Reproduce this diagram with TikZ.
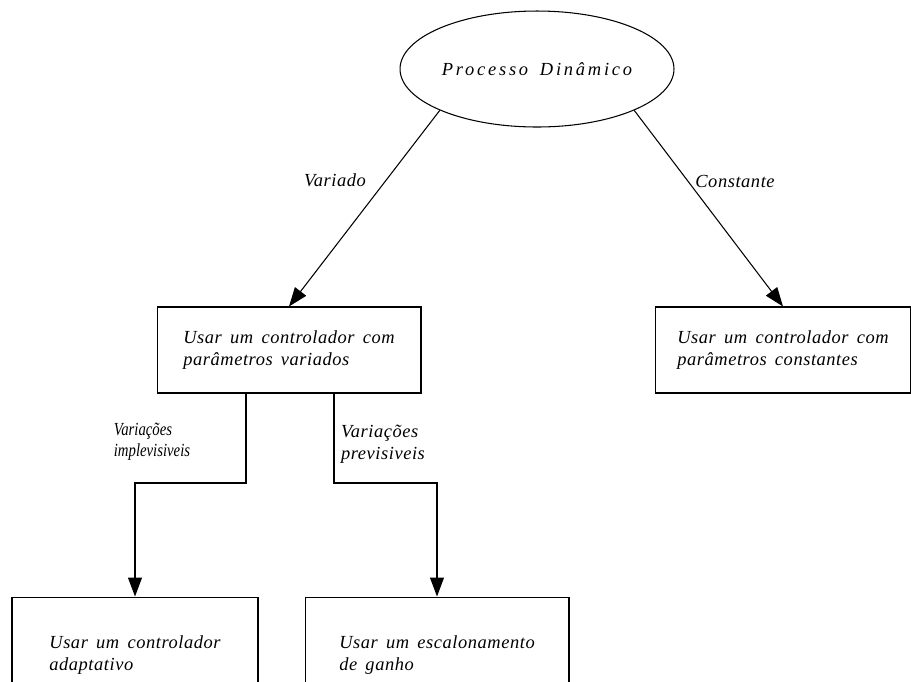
\documentclass[tikz,border=0pt]{standalone}
\usepackage{fontspec}
\setmainfont{Liberation Serif}[LetterSpace=3, WordSpace=1.6]
\newfontfamily\narrowfont{Liberation Serif}[FakeStretch=0.8]
\usetikzlibrary{shapes.geometric,arrows.meta}

\begin{document}
\begin{tikzpicture}[x=0.02cm, y=-0.02cm, line width=0.6pt,
    font=\fontsize{10.5}{12.5}\selectfont\itshape,
    >={Triangle[length=0.38cm,width=0.28cm]}]
    \useasboundingbox (0,0) rectangle (911,681);
    % The process at the top
    \node[draw, ellipse, inner sep=0pt, minimum width=5.48cm, minimum height=2.32cm,
        font=\fontsize{10.5}{12.5}\selectfont\itshape\addfontfeature{LetterSpace=15}]
        (proc) at (537,69) {Processo Dinâmico};
    % Controller choices
    \node[draw, minimum width=5.28cm, minimum height=1.72cm, align=left]
        (var) at (289,350) {Usar um controlador com\\parâmetros variados};
    \node[draw, minimum width=5.12cm, minimum height=1.72cm, align=left]
        (const) at (783,350) {Usar um controlador com\\parâmetros constantes};
    \node[draw, minimum width=4.92cm, minimum height=2.32cm, align=left]
        (adapt) at (135,655) {Usar um controlador\\adaptativo};
    \node[draw, minimum width=5.28cm, minimum height=2.32cm, align=left]
        (gain) at (437,655) {Usar um escalonamento\\de ganho};
    % Branch labels
    \node (lvar) at (335,180) {Variado};
    \node (lconst) at (735,181) {Constante};
    \node[align=left, font=\fontsize{10.5}{12}\narrowfont\itshape]
        (limp) at (152,442) {Variações\\implevisiveis};
    \node[align=left] (lprev) at (383,444) {Variações\\previsiveis};
    % Arrows
    \coordinate (kl) at (246,483);
    \coordinate (kr) at (334,483);
    \draw[->] (proc.south west) -- (var.north);
    \draw[->] (proc.south east) -- (const.north);
    \draw[->] (var.south -| kl) -- (kl) -| (adapt.north);
    \draw[->] (var.south -| kr) -- (kr) -| (gain.north);
\end{tikzpicture}
\end{document}
